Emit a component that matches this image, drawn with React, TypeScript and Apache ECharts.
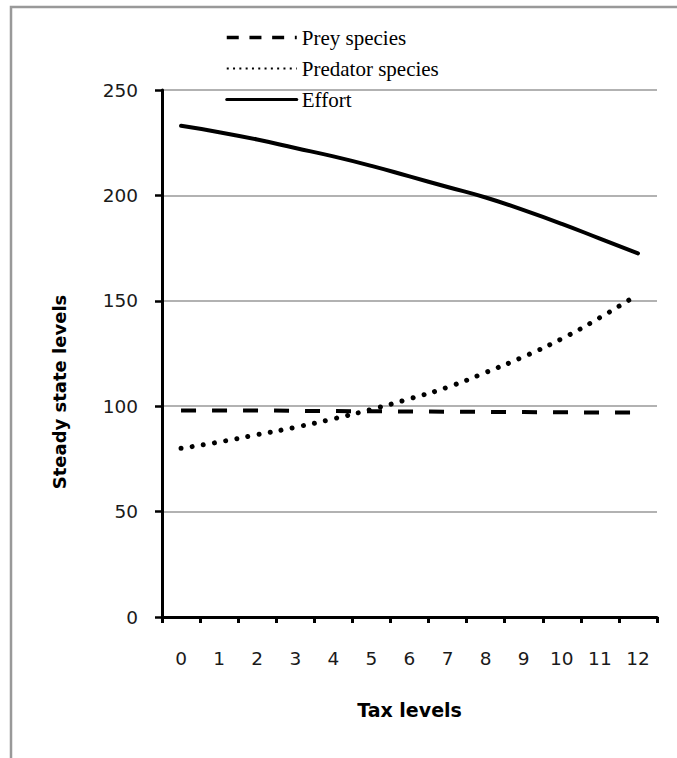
import React, { useEffect, useRef } from "react";
import * as echarts from "echarts";

const taxLevels = ["0", "1", "2", "3", "4", "5", "6", "7", "8", "9", "10", "11", "12"];
const preySpecies = [98, 98, 98, 97.8, 97.7, 97.6, 97.5, 97.4, 97.3, 97.2, 97.1, 97, 97];
const predatorSpecies = [80, 83, 86.5, 90, 94, 98.5, 103.5, 109, 116, 123.5, 132, 142, 153];
const effort = [233, 230, 226.5, 222.5, 218.5, 214, 209, 204, 199, 193, 186.5, 179.5, 172.5];

export default function App() {
  const ref = useRef<HTMLDivElement>(null);
  useEffect(() => {
    const chart = echarts.init(ref.current!, null, { renderer: "svg" });
    const axisFont = { fontFamily: "DejaVu Sans", fontSize: 18.5, color: "#1a1a1a" };
    chart.setOption({
      animation: false,
      backgroundColor: "#fff",
      graphic: [
        {
          type: "polyline",
          shape: { points: [[11, 780], [11, 7], [700, 7]] },
          style: { fill: "none", stroke: "#999", lineWidth: 2.5 },
          silent: true,
        },
        {
          type: "text",
          x: 59,
          y: 392,
          rotation: Math.PI / 2,
          style: {
            text: "Steady state levels",
            align: "center",
            verticalAlign: "middle",
            fontFamily: "DejaVu Sans",
            fontSize: 18,
            fontWeight: "bold",
            fill: "#000",
          },
          silent: true,
        },
      ],
      legend: {
        orient: "vertical",
        left: 220,
        top: 22,
        itemWidth: 70,
        itemHeight: 14,
        itemGap: 10,
        itemStyle: { opacity: 0 },
        textStyle: { fontFamily: "Liberation Serif", fontSize: 21, color: "#000" },
        data: [
          { name: "Prey species", lineStyle: { width: 3.5, type: [12, 10.7] } },
          { name: "Predator species", lineStyle: { width: 2, type: [2, 4.3], cap: "butt" } },
          { name: "Effort", lineStyle: { width: 3 } },
        ],
      },
      grid: { left: 162, right: 20, top: 90, bottom: 141, containLabel: false },
      xAxis: {
        type: "category",
        data: taxLevels,
        boundaryGap: true,
        name: "Tax levels",
        nameLocation: "middle",
        nameGap: 83,
        nameTextStyle: { fontFamily: "DejaVu Sans", fontSize: 19, fontWeight: "bold", color: "#000" },
        axisLine: { lineStyle: { color: "#000", width: 3 } },
        axisTick: { show: true, length: 6, alignWithLabel: false, lineStyle: { color: "#000", width: 3 } },
        axisLabel: { ...axisFont, margin: 32 },
        splitLine: { show: false },
      },
      yAxis: {
        type: "value",
        min: 0,
        max: 250,
        interval: 50,
        axisLine: { show: true, lineStyle: { color: "#000", width: 3 } },
        axisTick: { show: true, length: 7, lineStyle: { color: "#000", width: 2.5 } },
        axisLabel: { ...axisFont, margin: 24 },
        splitLine: { show: true, lineStyle: { color: "#999", width: 1.5 } },
      },
      series: [
        {
          name: "Prey species",
          type: "line",
          data: preySpecies,
          symbol: "none",
          lineStyle: { color: "#000", width: 4, type: [15, 16] },
          itemStyle: { color: "#000" },
          z: 3,
        },
        {
          name: "Predator species",
          type: "line",
          data: predatorSpecies,
          symbol: "none",
          smooth: true,
          lineStyle: { color: "#000", width: 5, type: [0.01, 11.3], cap: "round" },
          itemStyle: { color: "#000" },
          z: 4,
        },
        {
          name: "Effort",
          type: "line",
          data: effort,
          symbol: "none",
          smooth: true,
          lineStyle: { color: "#000", width: 4, cap: "round" },
          itemStyle: { color: "#000" },
          z: 5,
        },
      ],
    });
    return () => chart.dispose();
  }, []);
  return (
    <div
      ref={ref}
      style={{ position: "fixed", left: 0, top: 0, width: 677, height: 758 }}
    />
  );
}
